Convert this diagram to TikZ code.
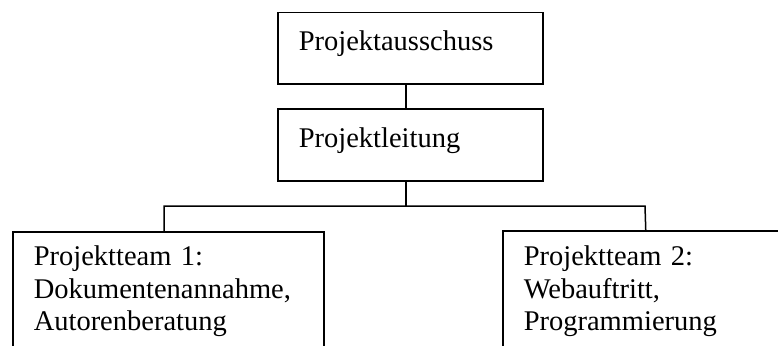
\documentclass[tikz,border=0pt]{standalone}
\usepackage{fontspec}
\setmainfont{Liberation Serif}
\usepackage{tikz}

\begin{document}
\begin{tikzpicture}
      [x=1pt,y=-1pt,line width=1.5pt,
       main node/.style={rectangle,draw,anchor=north west,align=left,inner xsep=21pt,inner ysep=0pt,
         font=\fontsize{28.5}{32.5}\selectfont}]
        \useasboundingbox (0,0) rectangle (778,345);
        \clip (0,0) rectangle (778,345);

        \node[main node,text width=223pt,text height=38pt,text depth=33pt] (ausschuss) at (277,12) {Projektausschuss};
        \node[main node,text width=223pt,text height=39pt,text depth=33pt] (leitung) at (277,108) {Projektleitung};
        \node[main node,text width=269pt,text height=34pt,text depth=120pt] (team1) at (12,231) {Projektteam 1:\\Dokumentenannahme,\\Autorenberatung};
        \node[main node,text width=244pt,text height=35pt,text depth=120pt] (team2) at (502,230) {Projektteam 2:\\Webauftritt,\\Programmierung};

        \coordinate (spine) at (406,0);
        \coordinate (barL) at (164,206);
        \coordinate (barR) at (645,206);

        \draw (ausschuss.south -| spine) -- (leitung.north -| spine);
        \draw (leitung.south -| spine) -- (spine |- barL);
        \draw (team1.north -| barL) -- (barL) -- (barR) -- (team2.north);

      \end{tikzpicture}
\end{document}
